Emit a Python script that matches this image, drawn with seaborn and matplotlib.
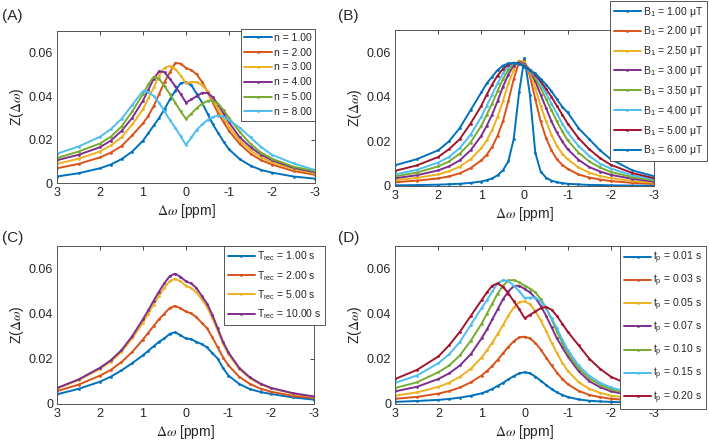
import matplotlib
matplotlib.use('Agg')
import matplotlib.pyplot as plt
import pandas as pd
import seaborn as sns

# Frequency offset grid (ppm) shared by all panels
dw = [3, 2.5, 2, 1.75, 1.5, 1.25, 1, 0.875, 0.75, 0.625, 0.5, 0.375, 0.25, 0.125, 0,
      -0.125, -0.25, -0.375, -0.5, -0.625, -0.75, -0.875, -1, -1.25, -1.5, -1.75, -2, -2.5, -3]

# (A) number of pulses
labels_n = ['n = 1.00', 'n = 2.00', 'n = 3.00', 'n = 4.00', 'n = 5.00', 'n = 8.00']
z_n = [
    [0.003, 0.0045, 0.0068, 0.0085, 0.011, 0.0145, 0.0195, 0.023, 0.0265, 0.030, 0.034, 0.0385, 0.0425, 0.046, 0.0465,
     0.045, 0.041, 0.037, 0.032, 0.027, 0.023, 0.019, 0.0155, 0.011, 0.008, 0.006, 0.0048, 0.003, 0.002],
    [0.0068, 0.0088, 0.0118, 0.014, 0.017, 0.022, 0.0275, 0.031, 0.0355, 0.041, 0.0465, 0.051, 0.0553, 0.055, 0.053,
     0.052, 0.050, 0.0465, 0.042, 0.037, 0.032, 0.028, 0.024, 0.018, 0.0135, 0.0105, 0.0085, 0.0055, 0.0038],
    [0.0088, 0.0112, 0.0145, 0.0173, 0.021, 0.027, 0.034, 0.039, 0.044, 0.0495, 0.053, 0.054, 0.0525, 0.0495, 0.046,
     0.0465, 0.0465, 0.045, 0.0425, 0.038, 0.034, 0.030, 0.026, 0.0195, 0.015, 0.0118, 0.0095, 0.0065, 0.0045],
    [0.0105, 0.013, 0.0165, 0.0195, 0.024, 0.030, 0.038, 0.043, 0.048, 0.0515, 0.051, 0.048, 0.0445, 0.041, 0.037,
     0.0385, 0.040, 0.0415, 0.0415, 0.0395, 0.036, 0.032, 0.028, 0.021, 0.0165, 0.013, 0.0105, 0.007, 0.005],
    [0.0115, 0.0145, 0.0182, 0.0213, 0.026, 0.033, 0.041, 0.0455, 0.049, 0.048, 0.0445, 0.041, 0.037, 0.033, 0.0295,
     0.032, 0.0345, 0.0365, 0.0378, 0.038, 0.0365, 0.0335, 0.030, 0.0235, 0.018, 0.014, 0.0112, 0.0075, 0.0055],
    [0.0135, 0.0168, 0.0213, 0.0248, 0.0295, 0.036, 0.0425, 0.042, 0.040, 0.037, 0.033, 0.029, 0.0255, 0.0215, 0.0175,
     0.021, 0.0245, 0.027, 0.029, 0.0305, 0.031, 0.0305, 0.029, 0.0255, 0.021, 0.0165, 0.013, 0.009, 0.006],
]

# (B) saturation amplitude
labels_b1 = ['B$_1$ = 1.00 μT', 'B$_1$ = 2.00 μT', 'B$_1$ = 2.50 μT', 'B$_1$ = 3.00 μT',
             'B$_1$ = 3.50 μT', 'B$_1$ = 4.00 μT', 'B$_1$ = 5.00 μT', 'B$_1$ = 6.00 μT']
z_b1 = [
    [0.0003, 0.0004, 0.0006, 0.0008, 0.001, 0.0014, 0.002, 0.0026, 0.0034, 0.0048, 0.007, 0.011, 0.021, 0.042, 0.0575,
     0.041, 0.015, 0.0065, 0.0037, 0.0024, 0.0017, 0.0013, 0.001, 0.0007, 0.0005, 0.0004, 0.0003, 0.0002, 0.0002],
    [0.0017, 0.0024, 0.0034, 0.0043, 0.0057, 0.008, 0.0115, 0.014, 0.0175, 0.0225, 0.029, 0.038, 0.048, 0.0555, 0.056,
     0.0495, 0.039, 0.029, 0.0215, 0.016, 0.012, 0.0095, 0.0077, 0.0052, 0.0038, 0.0029, 0.0022, 0.0014, 0.001],
    [0.0026, 0.0036, 0.0052, 0.0066, 0.0087, 0.012, 0.017, 0.0205, 0.025, 0.031, 0.038, 0.046, 0.052, 0.0563, 0.0555,
     0.051, 0.044, 0.036, 0.029, 0.023, 0.018, 0.0145, 0.012, 0.0083, 0.006, 0.0045, 0.0035, 0.0022, 0.0015],
    [0.0035, 0.0048, 0.007, 0.0088, 0.0115, 0.016, 0.0225, 0.027, 0.032, 0.038, 0.0445, 0.050, 0.054, 0.0558, 0.0548,
     0.0522, 0.047, 0.041, 0.035, 0.029, 0.024, 0.020, 0.0165, 0.0118, 0.0085, 0.0065, 0.005, 0.0032, 0.002],
    [0.0043, 0.006, 0.0088, 0.011, 0.0145, 0.0195, 0.027, 0.032, 0.037, 0.0425, 0.048, 0.052, 0.055, 0.0555, 0.0543,
     0.052, 0.0485, 0.044, 0.039, 0.034, 0.029, 0.0245, 0.0205, 0.015, 0.011, 0.0083, 0.0063, 0.004, 0.0025],
    [0.0052, 0.0072, 0.0105, 0.013, 0.017, 0.023, 0.031, 0.036, 0.041, 0.046, 0.0505, 0.0535, 0.0553, 0.0552, 0.054,
     0.052, 0.0495, 0.046, 0.0415, 0.037, 0.0325, 0.028, 0.024, 0.018, 0.0135, 0.010, 0.0078, 0.0048, 0.003],
    [0.0068, 0.0092, 0.013, 0.0165, 0.021, 0.028, 0.036, 0.041, 0.0455, 0.0495, 0.0525, 0.0545, 0.0553, 0.055, 0.0538,
     0.052, 0.050, 0.047, 0.0435, 0.040, 0.036, 0.032, 0.028, 0.0215, 0.0165, 0.0125, 0.0095, 0.0058, 0.0035],
    [0.0093, 0.012, 0.016, 0.020, 0.026, 0.034, 0.042, 0.046, 0.049, 0.052, 0.054, 0.055, 0.0552, 0.0548, 0.0535,
     0.052, 0.0505, 0.048, 0.0455, 0.0425, 0.039, 0.0355, 0.033, 0.026, 0.021, 0.016, 0.012, 0.007, 0.0044],
]

# (C) recovery time
labels_trec = ['T$_\\mathrm{rec}$ = 1.00 s', 'T$_\\mathrm{rec}$ = 2.00 s',
               'T$_\\mathrm{rec}$ = 5.00 s', 'T$_\\mathrm{rec}$ = 10.00 s']
z_trec = [
    [0.0042, 0.0066, 0.0098, 0.012, 0.0148, 0.018, 0.0215, 0.0235, 0.0255, 0.0275, 0.029, 0.031, 0.0318, 0.0305, 0.029,
     0.0287, 0.0275, 0.0265, 0.0250, 0.0225, 0.020, 0.0158, 0.0125, 0.0088, 0.0065, 0.0052, 0.0043, 0.0028, 0.0018],
    [0.0056, 0.0085, 0.0125, 0.015, 0.0185, 0.023, 0.0285, 0.0315, 0.0345, 0.0375, 0.040, 0.0425, 0.0435, 0.0425, 0.041,
     0.0402, 0.0385, 0.036, 0.0335, 0.0295, 0.025, 0.0205, 0.017, 0.012, 0.0088, 0.0067, 0.0053, 0.0035, 0.0025],
    [0.0068, 0.0105, 0.0155, 0.0187, 0.023, 0.029, 0.036, 0.040, 0.044, 0.048, 0.0515, 0.0545, 0.0555, 0.0545, 0.0525,
     0.0515, 0.0495, 0.0465, 0.043, 0.038, 0.0325, 0.0265, 0.022, 0.0155, 0.0113, 0.0086, 0.0068, 0.0045, 0.003],
    [0.007, 0.0108, 0.016, 0.0193, 0.0238, 0.030, 0.0375, 0.0415, 0.0457, 0.0498, 0.0535, 0.0567, 0.0578, 0.0565, 0.0545,
     0.0535, 0.0515, 0.048, 0.0445, 0.0395, 0.0335, 0.0275, 0.0228, 0.016, 0.0117, 0.0089, 0.007, 0.0047, 0.0032],
]

# (D) pulse duration
labels_tp = ['t$_\\mathrm{p}$ = 0.01 s', 't$_\\mathrm{p}$ = 0.03 s', 't$_\\mathrm{p}$ = 0.05 s',
             't$_\\mathrm{p}$ = 0.07 s', 't$_\\mathrm{p}$ = 0.10 s', 't$_\\mathrm{p}$ = 0.15 s',
             't$_\\mathrm{p}$ = 0.20 s']
z_tp = [
    [0.0008, 0.0012, 0.0017, 0.0021, 0.0027, 0.0035, 0.0046, 0.0055, 0.0066, 0.0079, 0.0093, 0.0108, 0.0123, 0.0135, 0.014,
     0.0135, 0.012, 0.0102, 0.0083, 0.0065, 0.005, 0.0039, 0.003, 0.0019, 0.0013, 0.001, 0.0008, 0.0005, 0.0004],
    [0.0022, 0.003, 0.0045, 0.0056, 0.0072, 0.0095, 0.0125, 0.0145, 0.0168, 0.0195, 0.0225, 0.0253, 0.0278, 0.0295, 0.0298,
     0.029, 0.027, 0.024, 0.0205, 0.017, 0.0138, 0.011, 0.0087, 0.0057, 0.0039, 0.0029, 0.0022, 0.0014, 0.001],
    [0.0036, 0.005, 0.0075, 0.0093, 0.012, 0.0155, 0.0205, 0.0237, 0.0272, 0.031, 0.035, 0.0392, 0.0428, 0.0452, 0.0455,
     0.0442, 0.041, 0.037, 0.0322, 0.0272, 0.0225, 0.0182, 0.0146, 0.0096, 0.0066, 0.0048, 0.0036, 0.0023, 0.0016],
    [0.0055, 0.0075, 0.011, 0.0135, 0.017, 0.022, 0.029, 0.033, 0.0375, 0.042, 0.0465, 0.050, 0.0523, 0.0525, 0.051,
     0.0495, 0.047, 0.0435, 0.039, 0.034, 0.029, 0.025, 0.021, 0.0145, 0.010, 0.0073, 0.0055, 0.0035, 0.0025],
    [0.007, 0.0095, 0.014, 0.017, 0.0215, 0.028, 0.0355, 0.040, 0.0445, 0.049, 0.0525, 0.0548, 0.055, 0.054, 0.0525,
     0.0512, 0.0495, 0.0465, 0.0425, 0.0375, 0.032, 0.027, 0.0225, 0.0158, 0.0113, 0.0084, 0.0064, 0.0041, 0.0029],
    [0.0093, 0.0125, 0.018, 0.022, 0.0275, 0.035, 0.0425, 0.046, 0.050, 0.0535, 0.055, 0.0545, 0.0525, 0.050, 0.047,
     0.0472, 0.0472, 0.0455, 0.0425, 0.038, 0.0335, 0.0285, 0.024, 0.017, 0.0124, 0.0093, 0.0072, 0.0047, 0.0033],
    [0.011, 0.015, 0.021, 0.026, 0.032, 0.039, 0.046, 0.0495, 0.0525, 0.0535, 0.052, 0.049, 0.0455, 0.042, 0.038,
     0.0395, 0.041, 0.0425, 0.043, 0.0418, 0.039, 0.0355, 0.032, 0.026, 0.020, 0.0155, 0.012, 0.0078, 0.0053],
]

# MATLAB default colour order
matlab_colors = ['#0072BD', '#D95319', '#EDB120', '#7E2F8E', '#77AC30', '#4DBEEE', '#A2142F']

sns.set_theme(style='white')
plt.rcParams['font.family'] = ['Liberation Sans', 'DejaVu Sans']
plt.rcParams['mathtext.fontset'] = 'custom'
plt.rcParams['mathtext.rm'] = 'Liberation Sans'
plt.rcParams['mathtext.it'] = 'Liberation Sans:italic'
plt.rcParams['axes.unicode_minus'] = False
plt.rcParams['text.color'] = '#262626'

fig = plt.figure(figsize=(7.09, 4.44), dpi=100)

panels = [
    ('(A)', labels_n, z_n, [0.0804, 0.5878, 0.3639, 0.3423], (315 / 709, 1 - 29 / 444), 0.47),
    ('(B)', labels_b1, z_b1, [0.5571, 0.5811, 0.3653, 0.3514], (707 / 709, 1 - 1 / 444), 0.56),
    ('(C)', labels_trec, z_trec, [0.0808, 0.0908, 0.3621, 0.3545], (325 / 709, 1 - 246 / 444), 0.52),
    ('(D)', labels_tp, z_tp, [0.5575, 0.0908, 0.3649, 0.3545], (706 / 709, 1 - 246 / 444), 0.66),
]
letter_pos = [(0.003, 0.965), (0.477, 0.965), (0.003, 0.465), (0.477, 0.465)]

for i, (letter, labels, curves, rect, leg_anchor, spacing) in enumerate(panels):
    ax = fig.add_axes(rect)
    for j, (lab, z) in enumerate(zip(labels, curves)):
        df = pd.DataFrame({'dw': dw, 'z': z})
        sns.lineplot(data=df, x='dw', y='z', ax=ax, color=matlab_colors[j % 7], label=lab,
                     marker='.', markersize=4, markeredgewidth=0, linewidth=1.4,
                     sort=False, estimator=None)
    ax.set_xlim(3, -3)
    ax.set_ylim(0, 0.07)
    ax.set_xticks([3, 2, 1, 0, -1, -2, -3])
    ax.set_xticklabels(['3', '2', '1', '0', '-1', '-2', '-3'])
    ax.set_yticks([0, 0.02, 0.04, 0.06])
    ax.set_yticklabels(['0', '0.02', '0.04', '0.06'])
    ax.tick_params(direction='in', top=True, right=True, length=3, width=0.6,
                   labelsize=9, colors='#262626', pad=3)
    for sp in ax.spines.values():
        sp.set_color('#555555')
        sp.set_linewidth(0.7)
    ax.set_xlabel(r'$\Delta\omega$ [ppm]', fontsize=10, math_fontfamily='stix', labelpad=2)
    ax.set_ylabel(r'Z($\Delta\omega$)', fontsize=10, math_fontfamily='stix', labelpad=2)
    leg = ax.legend(loc='upper right', bbox_to_anchor=leg_anchor, bbox_transform=fig.transFigure,
                    fontsize=7.5, handlelength=2.6, handletextpad=0.2, borderpad=0.35,
                    labelspacing=spacing, fancybox=False, framealpha=1, borderaxespad=0)
    leg.get_frame().set_edgecolor('#555555')
    leg.get_frame().set_linewidth(0.7)
    fig.text(letter_pos[i][0], letter_pos[i][1], letter, fontsize=11, va='center', ha='left')

fig.savefig('out.png', dpi=100)
